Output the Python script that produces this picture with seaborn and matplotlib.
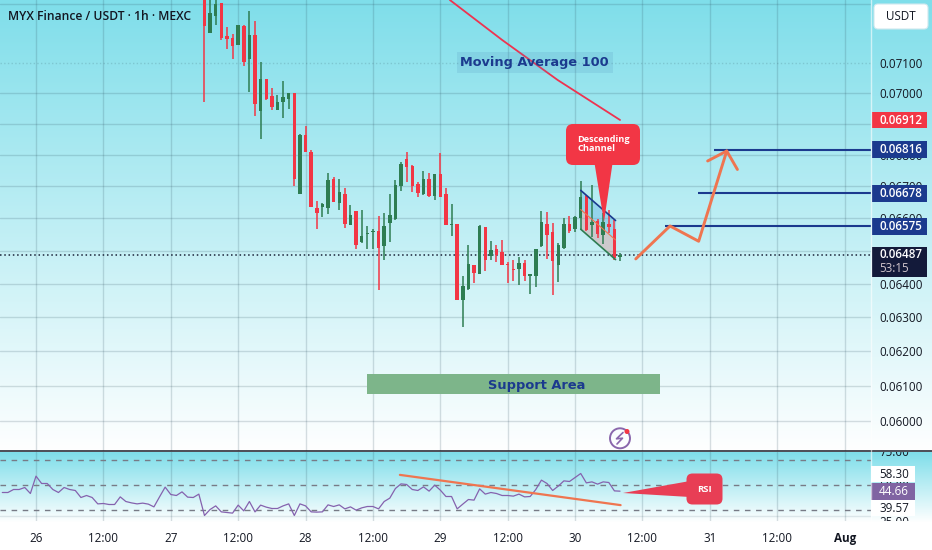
import numpy as np
import pandas as pd
import seaborn as sns
import matplotlib
matplotlib.use('Agg')
import matplotlib.pyplot as plt
from matplotlib.patches import FancyBboxPatch, Rectangle, Polygon, Circle
from matplotlib.ticker import NullLocator

# prices in 1e-5 USDT, one candle per hour, first candle is hour 30 after 26 Jul 00:00
open_e5 = [7328, 7200, 7259, 7301, 7191, 7184, 7161, 7224, 7114, 7194,
           6941, 7047, 6989, 6946, 6970, 6979, 6999, 6677, 6863, 6809,
           6631, 6634, 6631, 6723, 6647, 6677, 6579, 6622, 6526, 6552,
           6556, 6560, 6515, 6585, 6597, 6700, 6786, 6764, 6707, 6676,
           6722, 6670, 6738, 6675, 6579, 6582, 6352, 6385, 6456, 6430,
           6572, 6483, 6504, 6497, 6460, 6445, 6443, 6464, 6422, 6424,
           6514, 6582, 6558, 6458, 6509, 6582, 6566, 6602, 6670, 6578,
           6591, 6548, 6582, 6568, 6480]
high_e5 = [7355, 7322, 7316, 7302, 7222, 7197, 7227, 7227, 7274, 7240,
           7104, 7048, 7018, 6992, 7041, 7001, 6999, 6866, 6891, 6814,
           6655, 6646, 6741, 6729, 6722, 6695, 6641, 6622, 6625, 6576,
           6568, 6606, 6615, 6677, 6719, 6776, 6808, 6766, 6714, 6747,
           6741, 6740, 6804, 6693, 6643, 6582, 6424, 6518, 6457, 6578,
           6574, 6531, 6518, 6533, 6466, 6472, 6480, 6472, 6430, 6504,
           6621, 6618, 6585, 6525, 6602, 6608, 6606, 6717, 6672, 6703,
           6599, 6615, 6627, 6596, 6492]
low_e5 = [6971, 7200, 7229, 7178, 7148, 7114, 7161, 7088, 7002, 6924,
          6851, 6976, 6943, 6943, 6917, 6947, 6701, 6677, 6809, 6634,
          6567, 6603, 6613, 6650, 6625, 6569, 6579, 6506, 6523, 6504,
          6504, 6380, 6471, 6528, 6594, 6686, 6714, 6683, 6665, 6671,
          6667, 6658, 6666, 6578, 6546, 6352, 6272, 6380, 6402, 6428,
          6437, 6472, 6467, 6455, 6401, 6407, 6395, 6407, 6369, 6389,
          6510, 6475, 6365, 6406, 6504, 6555, 6558, 6563, 6561, 6543,
          6538, 6522, 6553, 6472, 6469]
close_e5 = [7224, 7269, 7298, 7184, 7181, 7158, 7227, 7102, 7194, 6963,
            7047, 6982, 6953, 6971, 6986, 7001, 6723, 6864, 6809, 6634,
            6616, 6643, 6719, 6652, 6682, 6583, 6609, 6518, 6545, 6555,
            6559, 6507, 6576, 6609, 6705, 6771, 6761, 6701, 6680, 6722,
            6669, 6738, 6666, 6578, 6582, 6352, 6394, 6460, 6433, 6577,
            6472, 6502, 6487, 6455, 6455, 6440, 6462, 6422, 6430, 6504,
            6589, 6549, 6469, 6516, 6582, 6560, 6603, 6667, 6563, 6588,
            6552, 6588, 6573, 6477, 6488]

# rsi starts 6 hours before 26 Jul 00:00
rsi_values = [43.6, 43.6, 46.0, 46.0, 47.6, 42.8, 56.7, 50.8, 50.8, 46.0,
              43.6, 47.6, 46.0, 45.2, 39.6, 41.2, 39.6, 34.5, 34.8, 34.0,
              34.0, 40.1, 36.4, 35.3, 34.5, 35.1, 34.3, 32.1, 40.1, 47.9,
              42.0, 41.2, 44.1, 39.9, 39.6, 42.3, 25.2, 30.0, 32.9, 28.1,
              27.6, 27.1, 33.5, 28.9, 36.4, 28.1, 33.5, 31.9, 30.8, 30.8,
              32.9, 34.5, 25.2, 34.5, 32.9, 28.1, 27.9, 28.1, 33.7, 32.4,
              33.7, 30.5, 32.1, 29.5, 31.3, 32.4, 32.4, 30.5, 36.4, 39.1,
              46.8, 50.5, 50.0, 46.0, 45.2, 48.1, 44.7, 49.5, 45.5, 40.4,
              40.4, 30.5, 34.3, 38.0, 37.5, 46.5, 42.3, 43.6, 42.8, 41.2,
              41.2, 40.7, 42.3, 40.1, 40.4, 46.0, 53.5, 50.8, 45.2, 48.7,
              52.9, 52.4, 55.6, 58.8, 51.3, 52.1, 50.3, 52.1, 51.6, 44.9,
              44.66]

time_ticks = [0, 12, 24, 36, 48, 60, 72, 84, 96, 108, 120, 132, 144]
time_labels = ['26', '12:00', '27', '12:00', '28', '12:00', '29', '12:00', '30', '12:00', '31', '12:00', 'Aug']
price_ticks = [0.073, 0.071, 0.070, 0.069, 0.068, 0.067, 0.066, 0.065, 0.064, 0.063, 0.062, 0.061, 0.060]
price_labels = ['', '0.07100', '0.07000', '', '0.06800', '0.06700', '0.06600', '0.06500',
                '0.06400', '0.06300', '0.06200', '0.06100', '0.06000']

# drawings on the chart (hour, price)
ma_hours = [73.7, 83, 92.9, 104]
ma_prices = [0.07313, 0.07177, 0.07043, 0.06912]
path_hours = [106.8, 112.9, 118, 123]
path_prices = [0.06475, 0.06576, 0.06529, 0.06812]
head_hours = [119.6, 123, 124.9]
head_prices = [0.0678, 0.06812, 0.06753]
target_prices = [0.06816, 0.06678, 0.06575]
target_starts = [120.7, 117.9, 112]
channel_hours = [97, 103.2]
channel_top = [0.06687, 0.06593]
channel_mid = [0.06627, 0.06533]
channel_bottom = [0.06566, 0.06473]
support_hours = [58.9, 111.2]
support_prices = [0.06077, 0.06133]
last_price = 0.06487
rsi_trend_hours = [64.8, 104.1]
rsi_trend_values = [57.7, 33.5]
rsi_levels = [70, 50, 30]

candles = pd.DataFrame({'open': open_e5, 'high': high_e5, 'low': low_e5, 'close': close_e5}) / 1e5
candles['hour'] = np.arange(30, 30 + len(candles))
rsi_df = pd.DataFrame({'hour': np.arange(-6, -6 + len(rsi_values)), 'rsi': rsi_values})

sns.set_theme(style='white')
plt.rcParams['font.family'] = ['Open Sans', 'DejaVu Sans']

W, H = 932, 550
GREEN = '#2E7D52'
RED = '#F23645'
BLUE = '#1B3A8E'
ORANGE = '#EF7550'
INK = '#131722'
GRID = '#2A4A5A'
FS = 8.4


def box(x0, y0, x1, y1):
    # pixel box to figure fractions
    return [x0 / W, 1 - y1 / H, (x1 - x0) / W, (y1 - y0) / H]


fig = plt.figure(figsize=(W / 100, H / 100), dpi=100)

# background gradients, same for plot and scale
top = np.array([0x7F, 0xDE, 0xEA]) / 255
grad = np.ones((H, 1, 3))
for r in range(452):
    grad[r, 0] = top + (1 - top) * r / 452
for r in range(452, 522):
    grad[r, 0] = top + (1 - top) * (r - 452) / 70
ax_bg = fig.add_axes([0, 0, 1, 1], zorder=0)
ax_bg.imshow(grad, extent=(0, W, H, 0), aspect='auto', interpolation='bilinear')
ax_bg.axis('off')

x_lim = (-6.41, 148.6)

# price pane
ax = fig.add_axes(box(0, 0, 870.5, 451), zorder=1)
ax.patch.set_alpha(0)
ax.set_yscale('log')
ax.set_xlim(x_lim)
ax.set_ylim(0.05916, 0.07313)
ax.yaxis.tick_right()
ax.set_yticks(price_ticks)
ax.set_yticklabels(price_labels, fontsize=FS, color=INK)
ax.yaxis.set_minor_locator(NullLocator())
ax.set_xticks(time_ticks)
ax.set_xticklabels([])
ax.tick_params(length=0, pad=6.2)
ax.grid(True, color=GRID, alpha=0.18, lw=1)
ax.get_ygridlines()[1].set_linestyle(':')
ax.set_axisbelow(True)
sns.despine(ax=ax, left=True, bottom=True, right=True, top=True)

up = candles['close'] >= candles['open']
for mask, col in [(up, GREEN), (~up, RED)]:
    part = candles[mask]
    ax.vlines(part['hour'], part['low'], part['high'], color=col, lw=1.1, zorder=3)
    body_low = part[['open', 'close']].min(axis=1)
    body_high = part[['open', 'close']].max(axis=1)
    ax.bar(part['hour'], body_high - body_low, bottom=body_low, width=0.62, color=col, lw=0, zorder=4)

ax.axhline(last_price, color='#1A2238', lw=1.1, ls=(0, (1, 1.8)), zorder=2)

# moving average line
sns.lineplot(x=ma_hours, y=ma_prices, ax=ax, color='#EE3350', lw=1.3, sort=False, estimator=None, zorder=5)

# projected path and targets
for price, start in zip(target_prices, target_starts):
    ax.hlines(price, start, x_lim[1], color=BLUE, lw=1.5, zorder=5)
sns.lineplot(x=path_hours, y=path_prices, ax=ax, color=ORANGE, lw=2.1, sort=False, estimator=None, zorder=6)
sns.lineplot(x=head_hours, y=head_prices, ax=ax, color=ORANGE, lw=2.1, sort=False, estimator=None, zorder=6)

# descending channel
ax.fill_between(channel_hours, channel_mid, channel_top, color='#4FA8E0', alpha=0.35, lw=0, zorder=2)
ax.fill_between(channel_hours, channel_bottom, channel_mid, color='#E57373', alpha=0.3, lw=0, zorder=2)
sns.lineplot(x=channel_hours, y=channel_mid, ax=ax, color=ORANGE, lw=0.8, sort=False, estimator=None, zorder=5)
sns.lineplot(x=channel_hours, y=channel_top, ax=ax, color=BLUE, lw=1.2, sort=False, estimator=None, zorder=5)
sns.lineplot(x=channel_hours, y=channel_bottom, ax=ax, color=GREEN, lw=1.2, sort=False, estimator=None, zorder=5)

# support area
ax.add_patch(Rectangle((support_hours[0], support_prices[0]), support_hours[1] - support_hours[0],
                       support_prices[1] - support_prices[0], color='#7DB58A', lw=0, zorder=2))
ax.set_xlabel('')
ax.set_ylabel('')

# rsi pane
ax_rsi = fig.add_axes(box(0, 452, 870.5, 521), zorder=1)
ax_rsi.patch.set_alpha(0)
ax_rsi.set_xlim(x_lim)
ax_rsi.set_ylim(20.8, 76)
ax_rsi.set_yticks([])
ax_rsi.set_xticks(time_ticks)
ax_rsi.set_xticklabels(time_labels, fontsize=FS, color=INK)
ax_rsi.get_xticklabels()[-1].set_fontweight('bold')
ax_rsi.tick_params(length=0, pad=8)
ax_rsi.grid(True, axis='x', color=GRID, alpha=0.18, lw=1)
ax_rsi.set_axisbelow(True)
sns.despine(ax=ax_rsi, left=True, bottom=True, right=True, top=True)
ax_rsi.axhline(25, color=GRID, alpha=0.12, lw=1)
for lev in rsi_levels:
    ax_rsi.axhline(lev, color='#787B86', lw=1, ls=(0, (4, 4)))
sns.lineplot(data=rsi_df, x='hour', y='rsi', ax=ax_rsi, color='#8562AE', lw=0.9, zorder=4)
sns.lineplot(x=rsi_trend_hours, y=rsi_trend_values, ax=ax_rsi, color=ORANGE, lw=1.6, sort=False, estimator=None, zorder=5)
ax_rsi.set_xlabel('')
ax_rsi.set_ylabel('')

# rsi scale, clipped at the pane border
ax_sc = fig.add_axes(box(870.5, 452, 932, 521), zorder=2)
ax_sc.set_xlim(870.5, 932)
ax_sc.set_ylim(521, 452)
ax_sc.axis('off')
ax_sc.text(879, 453, '75.00', fontsize=FS, color=INK, va='center', clip_on=True)
ax_sc.text(879, 487, '50.00', fontsize=FS, color=INK, va='center', clip_on=True)
ax_sc.text(879, 522.5, '25.00', fontsize=FS, color=INK, va='center', clip_on=True)
ax_sc.add_patch(Rectangle((871, 465.7), 44, 16.5, color='white', lw=0, zorder=3))
ax_sc.add_patch(Rectangle((871, 500), 44, 16, color='white', lw=0, zorder=3))
ax_sc.add_patch(Rectangle((871, 483), 44, 17, color='#8064A2', lw=0, zorder=3))
ax_sc.text(879, 474.5, '58.30', fontsize=FS, color=INK, va='center', zorder=4)
ax_sc.text(879, 491.5, '44.66', fontsize=FS, color='white', va='center', zorder=4)
ax_sc.text(879, 508, '39.57', fontsize=FS, color=INK, va='center', zorder=4)

# overlay in pixels: labels, callouts, scale boxes
ov = fig.add_axes([0, 0, 1, 1], zorder=3)
ov.patch.set_alpha(0)
ov.set_xlim(0, W)
ov.set_ylim(H, 0)
ov.axis('off')

ov.text(8, 16, 'MYX Finance / USDT · 1h · MEXC', fontsize=8.75, fontweight='semibold', color=INK, va='center')

ov.plot([0, W], [451.3, 451.3], color='#1A1D28', lw=1.1)
ov.plot([870.7, 870.7], [0, 451], color='white', alpha=0.6, lw=1)
ov.plot([870.7, 870.7], [452, 521], color='white', alpha=0.6, lw=1)

ov.add_patch(FancyBboxPatch((877, 7), 48, 19, boxstyle='round,pad=3,rounding_size=4', fc='white', ec='#D0E8EE', lw=0.8))
ov.text(901, 17, 'USDT', fontsize=FS, color=INK, ha='center', va='center')

scale_boxes = [(112, 128, RED, '0.06912'), (141, 158, BLUE, '0.06816'),
               (184.7, 201.5, BLUE, '0.06678'), (218, 235, BLUE, '0.06575')]
for y0, y1, col, lab in scale_boxes:
    ov.add_patch(Rectangle((871.5, y0), 55.5, y1 - y0, color=col, lw=0))
    ov.text(879, (y0 + y1) / 2, lab, fontsize=FS, fontweight='semibold', color='white', va='center')
ov.add_patch(Rectangle((871.5, 247), 55.5, 30, color='#131A3A', lw=0))
ov.text(879, 254.5, '0.06487', fontsize=FS, fontweight='semibold', color='white', va='center')
ov.text(879, 268.5, '53:15', fontsize=FS, color='#CFC4CC', va='center')

# Moving Average label
ov.add_patch(Rectangle((457.3, 52), 155.4, 20.7, color='#4A86B8', alpha=0.16, lw=0))
ov.text(534.5, 62.5, 'Moving Average 100', family='DejaVu Sans', fontsize=9.3, fontweight='semibold', color=BLUE,
        ha='center', va='center')
ov.text(537, 386, 'Support Area', family='DejaVu Sans', fontsize=9.4, fontweight='bold', color=BLUE,
        ha='center', va='center')

# Descending Channel callout
ov.add_patch(Polygon([(594, 160), (613, 160), (604, 222)], color=RED, lw=0, zorder=6))
ov.add_patch(FancyBboxPatch((573, 131), 60, 27, boxstyle='round,pad=7,rounding_size=7', fc=RED, ec=RED, lw=0, zorder=6))
ov.text(577, 144, 'Descending\nChannel', fontsize=6.6, fontweight='bold', color='white', va='center',
        linespacing=1.05, zorder=7)

# RSI callout
ov.add_patch(Polygon([(623, 493), (690, 481), (690, 497)], color='#E83E55', lw=0))
ov.add_patch(FancyBboxPatch((692, 479), 25, 20, boxstyle='round,pad=5.5,rounding_size=6', fc='#E83E55', ec='#E83E55', lw=0))
ov.text(704.5, 489, 'RSI', fontsize=6.8, fontweight='bold', color='white', ha='center', va='center')

# bolt badge
ov.add_patch(Circle((620, 438.3), 10, fc='none', ec='#8A67AC', lw=1.4))
ov.plot([623, 616.5, 622.5, 617], [432.5, 438.8, 438.2, 444], color='#8A67AC', lw=1.2)
ov.add_patch(Circle((627, 431.5), 2.5, fc=RED, ec=RED, lw=0))

fig.savefig('out.png', dpi=100)
